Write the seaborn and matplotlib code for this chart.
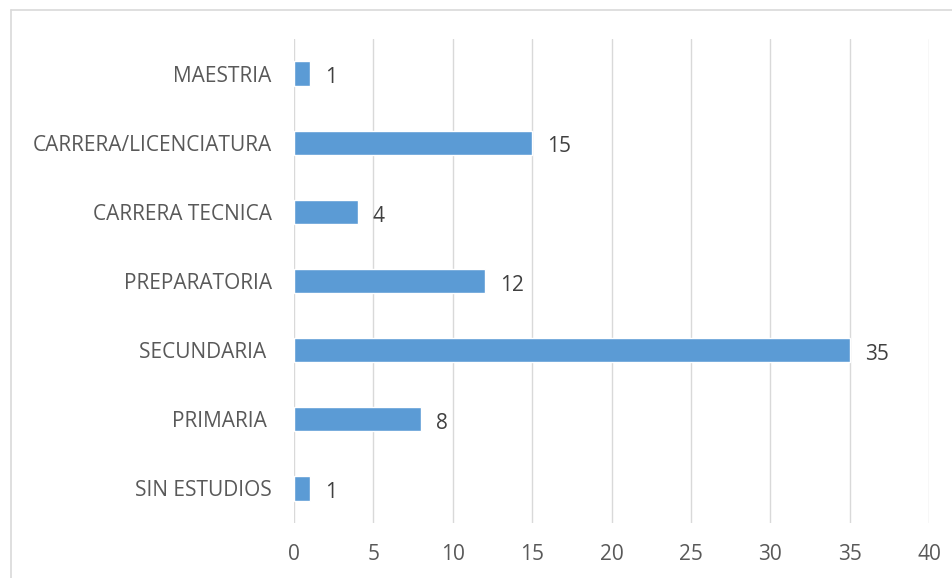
import matplotlib
matplotlib.use("Agg")
import matplotlib.pyplot as plt
import seaborn as sns
import pandas as pd
from matplotlib.lines import Line2D

# ---------------- data ----------------
niveles = ["MAESTRIA", "CARRERA/LICENCIATURA", "CARRERA TECNICA", "PREPARATORIA",
           "SECUNDARIA ", "PRIMARIA ", "SIN ESTUDIOS"]
personas = [1, 15, 4, 12, 35, 8, 1]
ticks_x = [0, 5, 10, 15, 20, 25, 30, 35, 40]

df = pd.DataFrame({"Nivel": niveles, "Personas": personas})

# ---------------- plot ----------------
sns.set_theme(style="white")
plt.rcParams["font.family"] = ["Open Sans", "DejaVu Sans"]

W, H = 953, 578
fig = plt.figure(figsize=(W / 100, H / 100), dpi=100)
ax = fig.add_axes([294 / W, 1 - 523 / H, (929 - 294) / W, (523 - 39) / H])

sns.barplot(data=df, x="Personas", y="Nivel", orient="h", color="#5B9BD5",
            saturation=1, width=0.35, ax=ax)

ax.set_xlim(0, 40)
ax.set_xticks(ticks_x)
ax.set_xlabel("")
ax.set_ylabel("")
ax.grid(axis="x", color="#D9D9D9", linewidth=1.0)
ax.set_axisbelow(True)
for s in ax.spines.values():
    s.set_visible(False)
ax.tick_params(axis="y", length=0, pad=16, labelsize=15, labelcolor="#595959")
ax.tick_params(axis="x", length=0, pad=15, labelsize=15, labelcolor="#595959")

etiquetas = ax.bar_label(ax.containers[0], padding=11, fontsize=15, color="#404040")
# nudge value labels a bit lower, like the original
for t in etiquetas:
    t.xyann = (t.xyann[0], -3)

# outer chart frame
fig.add_artist(Line2D([11 / W, 1], [1 - 10 / H, 1 - 10 / H], color="#D9D9D9", lw=1.2))
fig.add_artist(Line2D([11 / W, 11 / W], [0, 1 - 10 / H], color="#D9D9D9", lw=1.2))

fig.savefig("out.png", dpi=100)
